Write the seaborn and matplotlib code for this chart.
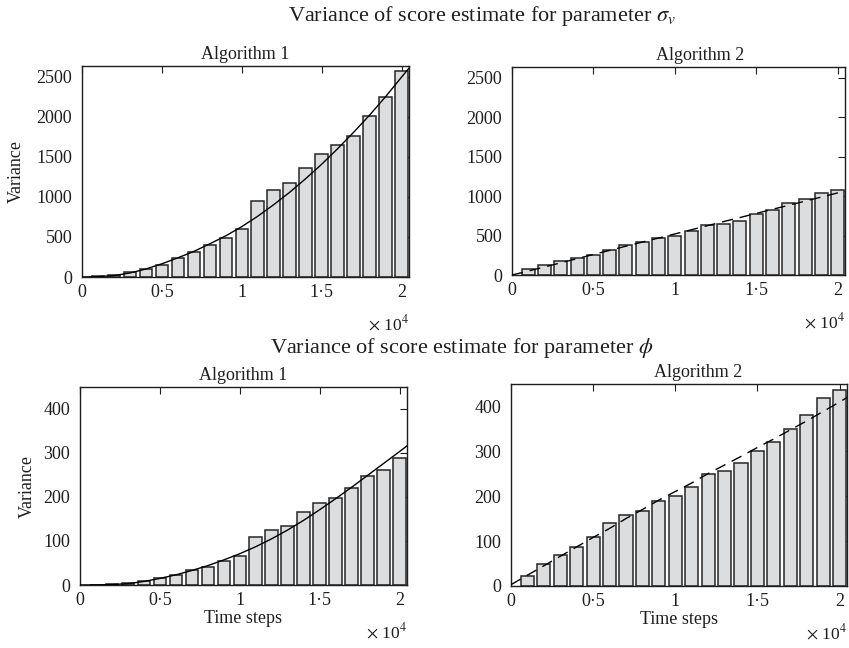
import matplotlib
matplotlib.use("Agg")
import matplotlib.pyplot as plt
import seaborn as sns

# ---------------- data ----------------
steps = [1000, 2000, 3000, 4000, 5000, 6000, 7000, 8000, 9000, 10000,
         11000, 12000, 13000, 14000, 15000, 16000, 17000, 18000, 19000, 20000]

sigma_alg1 = [10, 30, 58, 95, 155, 232, 315, 402, 490, 598,
              945, 1082, 1178, 1355, 1532, 1652, 1762, 2005, 2252, 2568]
sigma_alg2 = [72, 132, 174, 213, 259, 323, 378, 417, 472, 497,
              561, 629, 650, 689, 775, 828, 907, 966, 1040, 1071]
phi_alg1 = [1, 2, 4.5, 9, 15, 23, 34, 41, 55, 66,
            109, 124, 134, 165, 186, 198, 220, 248, 260, 287]
phi_alg2 = [22, 49, 68, 87, 109, 141, 158, 167, 189, 199,
            219, 250, 255, 274, 299, 320, 350, 379, 418, 435]

curve_x = [0, 1000, 2000, 3000, 4000, 5000, 6000, 7000, 8000, 9000, 10000,
           11000, 12000, 13000, 14000, 15000, 16000, 17000, 18000, 19000, 20000, 20500]
sigma_curve1 = [0, 4, 18, 50, 100, 165, 240, 320, 415, 515, 630,
                760, 905, 1060, 1230, 1410, 1605, 1810, 2025, 2255, 2500, 2620]
sigma_curve2 = [0, 50, 102, 155, 207, 260, 312, 365, 417, 468, 520,
                572, 625, 677, 728, 780, 832, 884, 936, 988, 1040, 1066]
phi_curve1 = [0, 0.3, 1, 3, 8, 15, 23, 33, 44, 57, 71,
              87, 105, 125, 147, 171, 196, 222, 249, 276, 303, 317]
phi_curve2 = [3, 24, 45, 66, 87, 108, 128, 150, 170, 191, 210,
              229, 250, 269, 288, 308, 327, 347, 367, 388, 409, 420]

xtick_vals = [0, 5000, 10000, 15000, 20000]
xtick_labels = ["0", "0\u00b75", "1", "1\u00b75", "2"]
sigma_yticks = [0, 500, 1000, 1500, 2000, 2500]
phi_yticks = [0, 100, 200, 300, 400]

titles = ["Algorithm 1", "Algorithm 2"]
sup_sigma = r"Variance of score estimate for parameter $\sigma_v$"
sup_phi = r"Variance of score estimate for parameter $\phi$"

# ---------------- style ----------------
sns.set_theme(style="white")
plt.rcParams["font.family"] = ["Liberation Serif", "DejaVu Serif"]
plt.rcParams["mathtext.fontset"] = "stix"
plt.rcParams["axes.linewidth"] = 1.0

W, H = 849, 648
fig = plt.figure(figsize=(W / 100, H / 100), dpi=100)


def px_axes(x0, x1, y0, y1):
    return fig.add_axes([x0 / W, 1 - y1 / H, (x1 - x0) / W, (y1 - y0) / H])


ax1 = px_axes(82, 409, 66, 277)
ax2 = px_axes(512, 845, 67, 275)
ax3 = px_axes(80, 407, 387, 585)
ax4 = px_axes(511, 847, 384, 586)

BAR_FACE = "#dcdddf"
BAR_EDGE = "#262626"
TXT = "#1e1e1e"

panels = [
    (ax1, sigma_alg1, sigma_curve1, "-", sigma_yticks, 2635, titles[0], 0.5),
    (ax2, sigma_alg2, sigma_curve2, "--", sigma_yticks, 2635, titles[1], 0.565),
    (ax3, phi_alg1, phi_curve1, "-", phi_yticks, 449, titles[0], 0.5),
    (ax4, phi_alg2, phi_curve2, "--", phi_yticks, 449, titles[1], 0.557),
]

for i, (ax, vals, curve, ls, yt, ymax, title, tx) in enumerate(panels):
    sns.barplot(x=steps, y=vals, native_scale=True, width=0.8,
                color=BAR_FACE, saturation=1, edgecolor=BAR_EDGE,
                linewidth=1.1, errorbar=None, ax=ax, zorder=2)
    sns.lineplot(x=curve_x, y=curve, color="black", linewidth=1.0,
                 ax=ax, zorder=3)
    line = ax.get_lines()[-1]
    if ls == "--":
        line.set_dashes([8, 5])
    ax.set_xlim(0, 20450)
    ax.set_ylim(0, ymax)
    ax.set_xticks(xtick_vals)
    ax.set_xticklabels(xtick_labels)
    ax.set_yticks(yt)
    ax.set_yticklabels([str(v) for v in yt])
    ax.tick_params(direction="in", top=True, right=True, length=5,
                   width=0.8, labelsize=13, colors=TXT)
    ax.tick_params(axis="y", pad=7)
    ax.tick_params(axis="x", pad=5)
    for s in ax.spines.values():
        s.set_color(TXT)
        s.set_linewidth(1.0)
        s.set_visible(True)
    ax.set_title(title, x=tx, fontsize=13, pad=5, color=TXT)
    ax.set_xlabel("")
    ax.set_ylabel("")
    ax.annotate(r"$\times$ 10$^{4}$", xy=(1.0, 0.0), xycoords="axes fraction",
                xytext=(0, -34), textcoords="offset points",
                ha="right", va="center", fontsize=12.5, color=TXT)

ax1.set_ylabel("Variance", fontsize=13, color=TXT)
ax1.yaxis.set_label_coords(-0.175, 0.5)
ax3.set_ylabel("Variance", fontsize=13, color=TXT)
ax3.yaxis.set_label_coords(-0.135, 0.5)
ax3.set_xlabel("Time steps", fontsize=13, color=TXT, labelpad=1)
ax4.set_xlabel("Time steps", fontsize=13, color=TXT, labelpad=1)

fig.text(482 / W, 1 - 16 / H, sup_sigma, ha="center", va="center",
         fontsize=16, color=TXT)
fig.text(462 / W, 1 - 348 / H, sup_phi, ha="center", va="center",
         fontsize=16, color=TXT)

fig.savefig("out.png", dpi=100)
